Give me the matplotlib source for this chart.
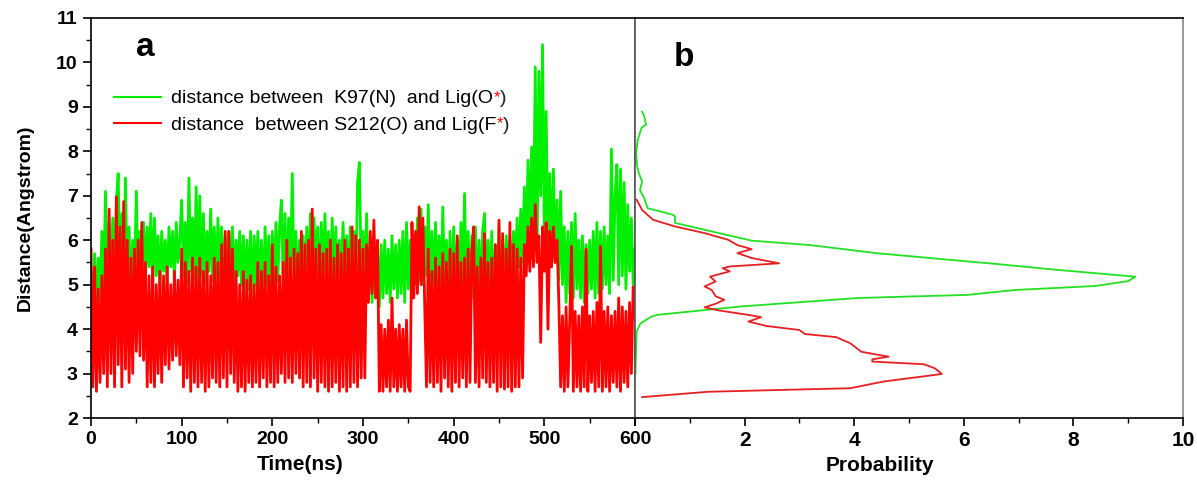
import numpy as np
import matplotlib
matplotlib.use('Agg')
import matplotlib.pyplot as plt
from matplotlib.lines import Line2D
from matplotlib.ticker import MultipleLocator

matplotlib.rcParams['font.family'] = 'Liberation Sans'

# time axis (ns), one reading every 2 ns
time_ns = np.arange(0, 601, 2)

# distance K97(N) - Lig(O*)
dist_k97 = [
  5.3, 4.6, 5.7, 4.5, 5.6, 4.7, 6.2, 4.9, 7.1, 5.0,
  6.4, 5.0, 6.5, 5.2, 6.9, 7.5, 5.1, 6.6, 4.9, 7.4,
  5.0, 6.3, 4.7, 6.0, 5.2, 7.1, 4.9, 6.2, 5.3, 6.4,
  5.1, 6.3, 5.4, 6.6, 5.0, 6.5, 5.2, 6.1, 4.9, 6.2,
  5.3, 6.0, 5.0, 6.3, 5.4, 6.2, 5.1, 6.4, 5.5, 6.0,
  6.9, 5.2, 6.4, 5.0, 7.4, 5.3, 6.5, 5.1, 7.2, 4.95,
  7.0, 5.2, 6.6, 5.0, 6.2, 5.3, 6.7, 5.1, 6.3, 4.9,
  6.5, 5.2, 6.3, 5.0, 6.1, 4.8, 6.2, 5.1, 6.3, 4.9,
  6.0, 5.2, 6.2, 5.0, 6.1, 4.7, 6.0, 4.9, 6.2, 4.6,
  6.1, 5.0, 6.2, 4.8, 6.0, 4.6, 6.3, 5.0, 6.1, 4.7,
  6.2, 4.9, 6.4, 5.1, 6.3, 6.9, 5.0, 6.6, 4.8, 6.5,
  5.2, 7.5, 5.0, 6.2, 4.7, 6.0, 4.6, 6.1, 5.0, 6.3,
  5.1, 6.6, 4.9, 6.5, 5.2, 6.3, 4.8, 6.4, 5.0, 6.6,
  5.1, 6.2, 4.8, 6.5, 5.0, 6.3, 4.9, 6.0, 5.2, 6.4,
  5.0, 6.1, 4.8, 6.3, 5.1, 6.2, 4.9, 7.3, 7.75, 5.2,
  6.2, 5.0, 6.6, 4.8, 5.9, 4.6, 6.0, 4.7, 5.8, 4.5,
  5.9, 4.7, 6.0, 4.8, 5.8, 4.6, 6.1, 4.9, 5.9, 4.7,
  6.0, 4.8, 6.2, 4.6, 6.4, 4.9, 6.0, 4.7, 6.1, 5.0,
  6.5, 5.1, 6.7, 5.0, 6.3, 5.2, 6.8, 4.9, 6.2, 5.0,
  6.4, 4.9, 6.1, 4.6, 6.75, 4.8, 6.0, 4.5, 6.2, 4.7,
  6.3, 4.8, 6.0, 4.6, 6.4, 4.9, 7.05, 4.7, 6.2, 4.6,
  6.1, 4.7, 6.3, 4.6, 6.0, 4.8, 6.2, 6.6, 4.7, 6.0,
  4.5, 6.2, 4.4, 5.9, 4.8, 6.3, 4.0, 6.0, 4.9, 6.1,
  5.1, 6.0, 5.3, 6.2, 5.2, 6.5, 5.4, 6.7, 5.5, 7.2,
  5.8, 7.8, 6.0, 8.1, 6.2, 9.9, 5.6, 9.8, 7.0, 10.4,
  6.0, 8.9, 5.7, 7.5, 5.6, 7.6, 5.5, 6.9, 5.1, 7.1,
  5.0, 6.3, 4.6, 6.2, 4.8, 6.4, 4.7, 6.6, 4.9, 6.0,
  4.7, 6.1, 4.6, 5.9, 4.8, 6.0, 4.9, 6.2, 4.7, 6.4,
  4.8, 6.2, 4.9, 6.3, 5.0, 6.1, 4.8, 8.05, 5.1, 7.0,
  7.7, 5.0, 7.6, 5.2, 7.3, 4.9, 6.8, 5.3, 6.5, 5.0,
  5.8]

# distance S212(O) - Lig(F*)
dist_s212 = [
  5.8, 2.7, 5.4, 2.6, 4.9, 2.8, 5.2, 3.0, 5.8, 2.7,
  6.7, 3.0, 6.0, 2.7, 6.98, 3.2, 6.3, 2.7, 6.87, 3.1,
  6.0, 2.8, 5.6, 3.0, 5.8, 3.5, 6.0, 3.4, 6.4, 3.3,
  5.5, 2.7, 5.2, 2.8, 5.4, 2.7, 5.0, 3.0, 5.3, 2.8,
  5.2, 3.2, 5.4, 3.1, 5.0, 3.3, 5.3, 3.4, 5.1, 3.2,
  5.8, 2.7, 5.5, 2.9, 5.3, 2.6, 5.6, 2.8, 5.4, 2.7,
  5.6, 2.8, 5.3, 2.6, 5.5, 2.7, 5.2, 2.9, 5.6, 2.8,
  5.5, 2.7, 5.9, 2.9, 6.2, 2.7, 6.2, 3.0, 5.8, 2.8,
  5.3, 2.6, 5.0, 2.7, 5.3, 2.6, 5.1, 2.8, 5.2, 2.7,
  5.0, 2.8, 5.5, 2.7, 5.3, 2.9, 5.5, 2.7, 5.2, 2.8,
  5.9, 2.7, 5.4, 2.8, 5.2, 3.0, 5.5, 2.8, 6.0, 2.9,
  5.6, 2.8, 5.8, 3.0, 5.7, 2.9, 6.2, 2.7, 5.9, 2.8,
  6.0, 2.7, 6.7, 2.9, 5.8, 2.6, 5.9, 2.8, 5.7, 2.7,
  5.8, 2.6, 6.0, 2.7, 5.6, 2.8, 5.9, 2.6, 5.7, 2.7,
  6.0, 2.6, 5.8, 2.7, 6.3, 2.8, 6.1, 2.7, 6.0, 2.9,
  5.8, 2.9, 5.9, 4.6, 6.2, 4.8, 6.45, 4.7, 6.0, 2.6,
  4.1, 2.6, 4.0, 2.7, 4.2, 2.6, 4.7, 2.7, 4.0, 2.6,
  4.1, 2.7, 4.0, 2.6, 4.2, 2.7, 2.6, 6.4, 4.7, 6.2,
  4.8, 6.75, 5.0, 6.5, 4.6, 2.7, 5.8, 2.8, 5.3, 2.7,
  5.6, 2.8, 5.4, 2.6, 5.7, 2.9, 5.5, 2.7, 5.8, 2.6,
  5.7, 2.8, 6.1, 2.7, 5.5, 2.9, 5.6, 2.7, 5.8, 2.8,
  5.7, 6.3, 2.8, 5.4, 2.7, 5.6, 2.9, 6.15, 2.8, 5.5,
  2.7, 5.6, 2.8, 5.9, 2.6, 6.45, 2.7, 6.15, 2.65, 5.8,
  2.7, 6.4, 2.6, 5.9, 2.7, 5.8, 2.7, 5.6, 2.9, 5.9,
  5.2, 6.3, 5.3, 6.5, 5.4, 6.8, 5.5, 6.1, 3.7, 6.3,
  5.3, 6.4, 4.0, 6.2, 5.4, 6.3, 5.5, 6.0, 4.6, 2.7,
  4.3, 2.6, 4.5, 2.7, 4.2, 5.86, 2.6, 4.4, 2.7, 4.3,
  2.6, 4.5, 2.7, 5.8, 2.6, 4.3, 2.8, 4.4, 2.6, 4.6,
  2.7, 5.86, 2.6, 4.4, 2.7, 4.5, 2.6, 4.3, 2.8, 4.4,
  2.7, 4.7, 2.6, 4.5, 2.8, 4.4, 2.7, 4.6, 3.0, 4.95,
  4.6]

# probability distributions (panel b): distance vs probability
k97_dist = [8.89, 8.78, 8.6, 8.53, 8.26, 7.96, 7.66, 7.51, 7.32, 7.13, 6.94,
            6.72, 6.57, 6.53, 6.39, 6.16, 5.99, 5.89, 5.71, 5.56, 5.48, 5.33,
            5.18, 5.08, 4.97, 4.88, 4.77, 4.70, 4.51, 4.32, 4.28, 4.13, 3.94,
            3.15, 3.0]
k97_prob = [0.13, 0.17, 0.2, 0.12, 0.05, 0.02, 0.04, 0.07, 0.13, 0.09, 0.17,
            0.23, 0.7, 0.73, 0.73, 1.53, 2.13, 3.2, 4.4, 5.73, 6.47, 7.73,
            9.13, 9.0, 8.4, 6.93, 6.07, 4.07, 1.93, 0.4, 0.3, 0.1, 0.03,
            0.01, 0.01]

s212_dist = [6.91, 6.68, 6.46, 6.31, 6.16, 6.01, 5.89, 5.80, 5.71, 5.60, 5.48,
             5.41, 5.37, 5.30, 5.18, 5.07, 4.96, 4.88, 4.74, 4.66, 4.57, 4.49,
             4.42, 4.32, 4.27, 4.17, 4.07, 3.98, 3.89, 3.82, 3.68, 3.49, 3.43,
             3.38, 3.32, 3.27, 3.21, 3.12, 2.99, 2.82, 2.67, 2.59, 2.47]
s212_prob = [0.03, 0.13, 0.33, 0.73, 1.27, 1.7, 1.87, 2.13, 1.87, 2.13, 2.63,
             1.73, 1.6, 1.73, 1.37, 1.47, 1.27, 1.4, 1.47, 1.63, 1.47, 1.27,
             1.53, 2.07, 2.3, 2.07, 2.4, 3.0, 3.1, 3.67, 3.93, 4.13, 4.4,
             4.63, 4.33, 4.33, 5.27, 5.47, 5.6, 4.53, 3.93, 1.33, 0.13]

green = '#00f000'
red = '#ff0000'

fig = plt.figure(figsize=(11.97, 4.86), dpi=100)
W, H = 1197.0, 486.0
ax = fig.add_axes([91 / W, 68 / H, 544 / W, 400 / H])
bx = fig.add_axes([635 / W, 68 / H, 548 / W, 400 / H])

# ---- panel a
ax.plot(time_ns, dist_k97, color=green, linewidth=2.0)
ax.plot(time_ns, dist_s212, color=red, linewidth=2.0)
ax.set_xlim(0, 600)
ax.set_ylim(2, 11)
ax.xaxis.set_major_locator(MultipleLocator(100))
ax.xaxis.set_minor_locator(MultipleLocator(50))
ax.yaxis.set_major_locator(MultipleLocator(1))
ax.yaxis.set_minor_locator(MultipleLocator(0.5))
ax.tick_params(which='major', direction='out', length=6, width=1.2,
               labelsize=14, top=False, right=False)
ax.tick_params(which='minor', direction='out', length=3.5, width=1.0,
               top=False, right=False)
for lab in ax.get_xticklabels() + ax.get_yticklabels():
  lab.set_fontweight('bold')
for pos in ['top', 'bottom', 'left', 'right']:
  ax.spines[pos].set_linewidth(1.2)
ax.spines['right'].set_color('#555555')
ax.set_xlabel('Time(ns)', fontsize=15, fontweight='bold', x=0.385, labelpad=5)
ax.set_ylabel('Distance(Angstrom)', fontsize=14, fontweight='bold', labelpad=16)
ax.text(0.1, 0.925, 'a', transform=ax.transAxes, fontsize=24,
        fontweight='bold', ha='center', va='center')

handles = [Line2D([], [], color=green, linewidth=1.5),
           Line2D([], [], color=red, linewidth=1.5)]
labels = ['distance between  K97(N)  and Lig(O', 'distance  between S212(O) and Lig(F']
leg = ax.legend(handles, labels, loc='upper left', bbox_to_anchor=(0.028, 0.84),
                frameon=False, fontsize=14, handlelength=2.4, handletextpad=0.55,
                labelspacing=0.45, borderaxespad=0.0)
leg.set_zorder(5)
for t in leg.get_texts():
  # red asterisk as a superscript after the label, then the closing bracket
  star = ax.annotate('*', xy=(1, 1.02), xycoords=t, color='red', fontsize=12,
                     ha='left', va='top', annotation_clip=False, zorder=10)
  ax.annotate(')', xy=(1, 0), xycoords=(star, t), fontsize=14, color='#222222',
              ha='left', va='bottom', annotation_clip=False, zorder=11)

# ---- panel b
bx.plot(k97_prob, k97_dist, color='#22e022', linewidth=1.3)
bx.plot(s212_prob, s212_dist, color='#e62020', linewidth=1.3)
bx.set_xlim(0, 10)
bx.set_ylim(2, 11)
bx.xaxis.set_major_locator(MultipleLocator(2))
bx.xaxis.set_minor_locator(MultipleLocator(1))
bx.set_yticks([])
bx.tick_params(which='major', direction='out', length=6, width=1.2,
               labelsize=15, top=False)
bx.tick_params(which='minor', direction='out', length=3.5, width=1.0, top=False)
bx.set_xticks([0, 2, 4, 6, 8, 10])
bx.set_xticklabels(['', '2', '4', '6', '8', '10'], fontweight='bold')
for pos in ['top', 'bottom', 'left', 'right']:
  bx.spines[pos].set_linewidth(1.2)
bx.spines['left'].set_color('#555555')
bx.spines['right'].set_color('#888888')
bx.set_xlabel('Probability', fontsize=15, fontweight='bold', x=0.447, labelpad=4)
bx.text(0.09, 0.9, 'b', transform=bx.transAxes, fontsize=24,
        fontweight='bold', ha='center', va='center')

fig.savefig('out.png', dpi=100)
